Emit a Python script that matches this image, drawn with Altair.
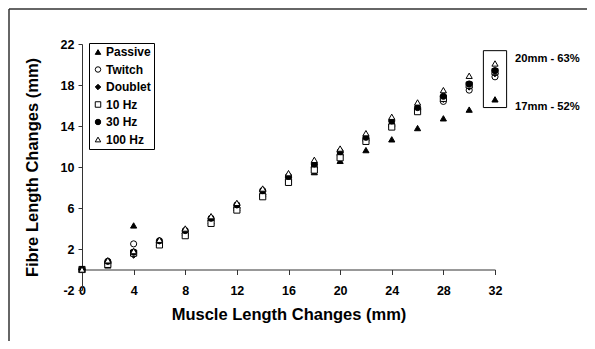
import altair as alt
import pandas as pd

# ---- data ----
muscle_mm = [0, 2, 4, 6, 8, 10, 12, 14, 16, 18, 20, 22, 24, 26, 28, 30, 32]
passive = [0, 0.4, 4.3, 2.6, 3.6, 4.7, 6.0, 7.4, 8.9, 9.5, 10.6, 11.65, 12.7, 13.8, 14.75, 15.6, 16.6]
twitch = [0, 0.6, 2.5, 2.6, 3.5, 4.8, 6.0, 7.3, 8.8, 10.0, 11.2, 12.6, 14.0, 15.6, 16.4, 17.5, 18.8]
doublet = [0, 0.7, 1.4, 2.7, 3.7, 4.9, 6.2, 7.6, 9.0, 10.2, 11.4, 12.8, 14.2, 15.7, 16.6, 17.8, 19.1]
hz10 = [0, 0.5, 1.6, 2.4, 3.3, 4.5, 5.8, 7.1, 8.5, 9.7, 10.9, 12.5, 13.9, 15.4, 16.7, 18.0, 19.3]
hz30 = [0, 0.8, 1.7, 2.8, 3.8, 5.0, 6.3, 7.7, 9.1, 10.3, 11.5, 12.9, 14.5, 15.8, 16.9, 18.1, 19.4]
hz100 = [0, 0.9, 1.8, 2.9, 4.0, 5.2, 6.5, 7.9, 9.4, 10.7, 11.8, 13.3, 14.9, 16.3, 17.5, 18.9, 20.1]

series_names = ["Passive", "Twitch", "Doublet", "10 Hz", "30 Hz", "100 Hz"]
series_values = [passive, twitch, doublet, hz10, hz30, hz100]
series_shapes = ["triangle-up", "circle", "diamond", "square", "circle", "triangle-up"]
series_fills = ["black", "white", "black", "white", "black", "white"]
series_strokes = ["black"] * 6

x_ticks = [0, 4, 8, 12, 16, 20, 24, 28, 32]
y_ticks = [-2, 2, 6, 10, 14, 18, 22]

box_x = [31.1]
box_x2 = [32.9]
box_y = [15.8]
box_y2 = [21.35]

ann_text = ["20mm - 63%", "17mm - 52%"]
ann_x = [33.55, 33.55]
ann_y = [20.5, 15.85]

FONT = "Liberation Sans"

rows = []
for i, (name, vals) in enumerate(zip(series_names, series_values)):
    for x, y in zip(muscle_mm, vals):
        rows.append({"muscle": x, "fibre": y, "series": name, "ord": i})
df = pd.DataFrame(rows)

x_scale = alt.Scale(domain=[0, 32], nice=False, zero=False)
y_scale = alt.Scale(domain=[-2, 22], nice=False, zero=False)

def leg():
    return alt.Legend(title=None, symbolStrokeColor="black", symbolStrokeWidth=1)

points = alt.Chart(df).mark_point(
    filled=True, size=38, strokeWidth=1, opacity=1
).encode(
    x=alt.X("muscle:Q", scale=x_scale,
            axis=alt.Axis(values=x_ticks, title="Muscle Length Changes (mm)",
                          offset=-20.5, tickSize=5, labelPadding=10,
                          titlePadding=9, labelFlush=False)),
    y=alt.Y("fibre:Q", scale=y_scale,
            axis=alt.Axis(values=y_ticks, title="Fibre Length Changes (mm)",
                          tickSize=4, labelPadding=4, titlePadding=20,
                          labelExpr="'' + datum.value")),
    shape=alt.Shape("series:N", scale=alt.Scale(domain=series_names, range=series_shapes),
                    legend=leg()),
    fill=alt.Fill("series:N", scale=alt.Scale(domain=series_names, range=series_fills),
                  legend=leg()),
    stroke=alt.Stroke("series:N", scale=alt.Scale(domain=series_names, range=series_strokes),
                      legend=leg()),
    order=alt.Order("ord:Q"),
)

box_df = pd.DataFrame({"x": box_x, "x2": box_x2, "y": box_y, "y2": box_y2})
box = alt.Chart(box_df).mark_rect(fillOpacity=0, stroke="black", strokeWidth=1).encode(
    x="x:Q", x2="x2:Q", y="y:Q", y2="y2:Q"
)

ann_df = pd.DataFrame({"x": ann_x, "y": ann_y, "t": ann_text})
ann = alt.Chart(ann_df).mark_text(
    align="left", baseline="middle", font=FONT, fontWeight="bold", fontSize=11.2, color="black"
).encode(x="x:Q", y="y:Q", text="t:N")

# outer frame (top and left edges)
frame_top = alt.Chart(pd.DataFrame({"a": [0]})).mark_rule(color="#333", strokeWidth=1.5).encode(
    x=alt.value(-73), x2=alt.value(505), y=alt.value(-35)
)
frame_left = alt.Chart(pd.DataFrame({"a": [0]})).mark_rule(color="#333", strokeWidth=1.5).encode(
    x=alt.value(-73), y=alt.value(-35), y2=alt.value(297)
)

chart = alt.layer(frame_top, frame_left, box, points, ann).properties(
    width=413, height=246,
    padding={"left": 74, "top": 36, "right": 92, "bottom": 51},
    autosize=alt.AutoSizeParams(type="none"),
).configure_view(stroke=None).configure_axis(
    grid=False, domainColor="#333", tickColor="#333",
    labelFont=FONT, labelFontWeight="bold", labelFontSize=12.5, labelColor="black",
    titleFont=FONT, titleFontWeight="bold", titleFontSize=16.5, titleColor="black",
).configure_legend(
    orient="none", legendX=7, legendY=-1, strokeColor="black", fillColor="white",
    padding=3, rowPadding=5.5, labelFont=FONT, labelFontWeight="bold",
    labelFontSize=12, labelColor="black", symbolSize=30, symbolStrokeWidth=1,
    symbolStrokeColor="black", labelOffset=2, cornerRadius=0,
)

chart.save("out.html", embed_options={"renderer": "svg", "actions": False})
